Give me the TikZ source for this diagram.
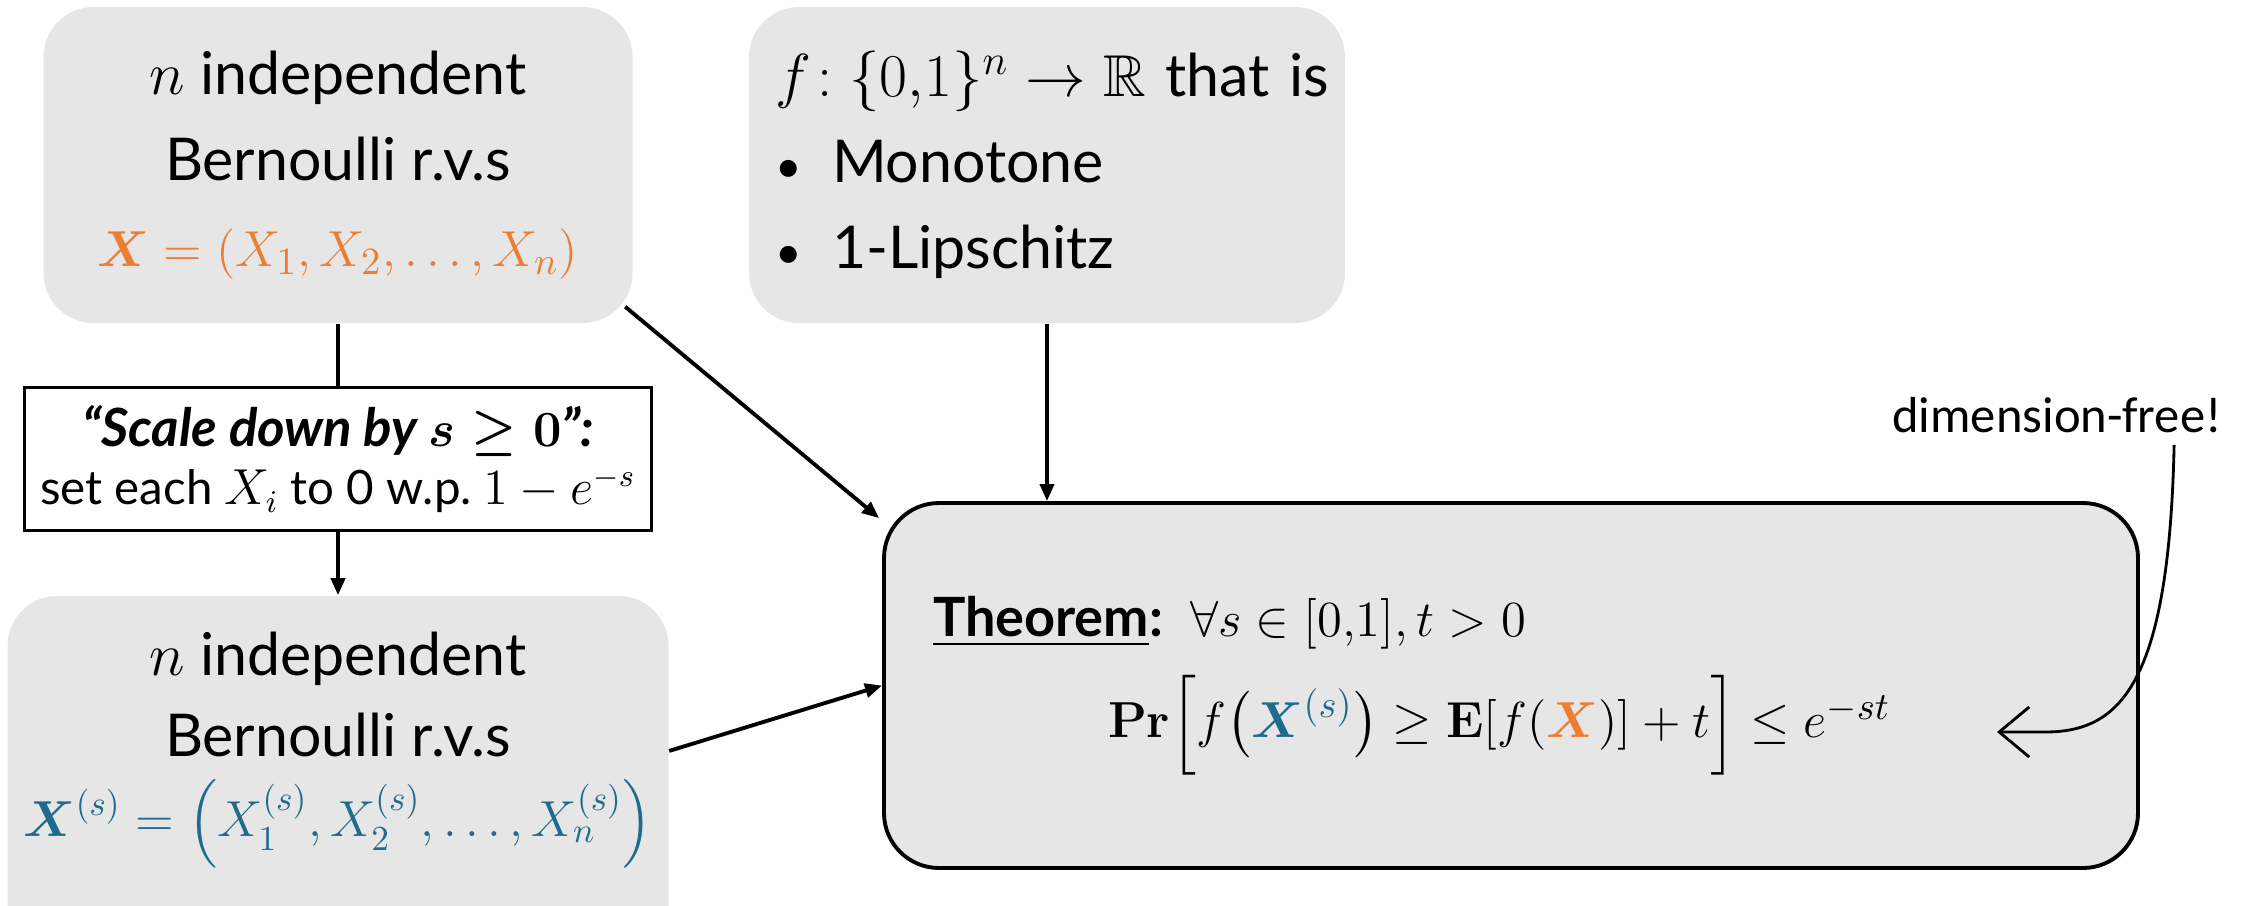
\documentclass[tikz,border=0pt]{standalone}
\usepackage{amsmath,amssymb}
\usepackage[no-math]{fontspec}
\setmainfont{Lato}
\newfontfamily\notefont{Carlito}
\usetikzlibrary{positioning,arrows.meta}
\definecolor{boxgray}{HTML}{E7E6E6}
\definecolor{xorange}{HTML}{ED7D31}
\definecolor{xblue}{HTML}{1F6B8E}
\newcommand{\bul}{\makebox[0.57cm][l]{\fontsize{13}{13}\selectfont\textbullet}}

\begin{document}
\begin{tikzpicture}[
    rvbox/.style={rectangle, rounded corners=0.5cm, fill=boxgray, align=center, font=\fontsize{16.8}{24.5}\selectfont},
    stepbox/.style={rectangle, draw, line width=1pt, fill=white, align=center, font=\fontsize{15}{16.5}\selectfont},
    thmbox/.style={rectangle, draw, line width=1.1pt, rounded corners=0.55cm, fill=boxgray, align=left, font=\fontsize{15.4}{24.5}\selectfont},
    arr/.style={line width=1.1pt, -{Triangle[length=0.17cm,width=0.14cm]}}
]
    \clip (0,0) rectangle (22.51,9.05);
    % inputs
    \node[rvbox, minimum width=5.89cm, minimum height=3.16cm] (bern) at (3.38,7.40) {
        $n$ independent \\
        Bernoulli r.v.s \\
        {\fontsize{15}{24.5}\selectfont\textcolor{xorange}{$\boldsymbol{X}=(X_1,X_2,\dots,X_n)$}}
    };
    \node[rvbox, align=left, text width=5.44cm, inner xsep=0.26cm, minimum height=3.16cm] (func) at (10.47,7.40) {
        \mbox{$f\!:\{0{,}1\}^n\to\mathbb{R}$ that is} \\
        \bul Monotone \\
        \bul 1-Lipschitz
    };
    % scaling step
    \node[stepbox, minimum width=6.27cm, minimum height=1.43cm, below=0.62cm of bern] (scale) {
        {\bfseries\itshape “Scale down by $\boldsymbol{s\geq 0}$”:} \\
        {\fontsize{13.5}{16}\selectfont set each $X_i$ to 0 w.p.\ $1-e^{-s}$}
    };
    \node[rvbox, font=\fontsize{16.8}{23}\selectfont, minimum width=6.61cm, inner ysep=0pt, text height=2.41cm, text depth=1.33cm, below=0.63cm of scale] (bernS) {
        $n$ independent \\
        Bernoulli r.v.s \\
        {\fontsize{14}{23}\selectfont\textcolor{xblue}{$\boldsymbol{X}^{(s)}=\left(X_1^{(s)},X_2^{(s)},\dots,X_n^{(s)}\right)$}}
    };
    % theorem
    \node[thmbox, minimum width=12.54cm, minimum height=3.65cm, text width=11.56cm, inner xsep=0.49cm] (thm) at (15.11,2.195) {
        \underline{\textbf{Theorem}}\textbf{:} $\forall s\in[0{,}1], t>0$ \\[0.15cm]
        \hspace*{1.75cm}{\fontsize{15.8}{24.5}\selectfont$\mathbf{Pr}\Bigl[f\bigl(\textcolor{xblue}{\boldsymbol{X}^{(s)}}\bigr)\geq\mathbf{E}[f(\textcolor{xorange}{\boldsymbol{X}})]+t\Bigr]\leq e^{-st}$}
    };
    \node[font=\notefont\fontsize{14.4}{17}\selectfont, anchor=base] (dimfree) at (20.57,4.73) {dimension-free!};
    \coordinate (dfend) at (19.97,1.73);

    \draw[line width=1.1pt] (bern.south) -- (bern.south |- scale.north);
    \draw[arr] (scale.south) -- (scale.south |- bernS.north);
    \draw[arr] ([xshift=-0.08cm,yshift=0.17cm]bern.south east) -- ([xshift=-0.03cm,yshift=-0.17cm]thm.north west);
    \draw[arr] (func.south) -- (func.south |- thm.north);
    \draw[arr] ([yshift=0.32cm]bernS.east) -- (thm.west);
    \draw[line width=0.8pt, -{Straight Barb[length=0.3cm,width=0.5cm]}]
        ([xshift=-0.6cm]dimfree.south east) .. controls (21.69,2.2) and (21.2,1.73) .. (20.45,1.73) -- (dfend);
\end{tikzpicture}
\end{document}
